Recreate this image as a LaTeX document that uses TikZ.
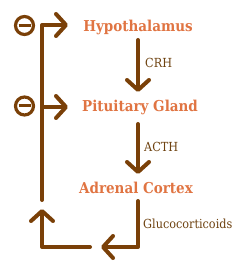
\documentclass[tikz,border=0pt]{standalone}
\usepackage{fontspec}
\setmainfont{DejaVu Serif}
\newfontfamily\condserif{DejaVu Serif Condensed}
\usetikzlibrary{arrows.meta}
\definecolor{organ}{RGB}{224,116,66}
\definecolor{brn}{RGB}{122,64,8}
\definecolor{lbl}{RGB}{110,66,16}
\tikzset{
  organlbl/.style={text=organ, font=\condserif\bfseries\fontsize{15}{17}\selectfont, inner sep=0pt},
  hormone/.style={text=lbl, font=\condserif\fontsize{12.5}{14}\selectfont, inner sep=0pt, anchor=west},
  flow/.style={draw=brn, line width=4pt, line cap=round, line join=round,
    -{Straight Barb[length=10pt,width=22pt,round]}},
  minus/.style={draw=brn, line width=3.2pt, circle, minimum size=18pt, inner sep=0pt,
    path picture={\draw[brn, line width=3pt] ([xshift=-6pt]path picture bounding box.center) -- ([xshift=6pt]path picture bounding box.center);}}
}
\begin{document}
\begin{tikzpicture}[x=1pt,y=-1pt]
\useasboundingbox (0,0) rectangle (250,264);
\node[organlbl] (hypo) at (138,27) {Hypothalamus};
\node[organlbl] (pit) at (140,107) {Pituitary Gland};
\node[organlbl] (adr) at (136,188) {Adrenal Cortex};
\node[hormone] (crh) at (145,63) {CRH};
\node[hormone] (acth) at (144,147) {ACTH};
\node[hormone] (gluc) at (143,224) {Glucocorticoids};
\node[minus] (m1) at (24.5,25.5) {};
\node[minus] (m2) at (24.5,106) {};
% coordinates
\coordinate (c1s) at (138,40);
\coordinate (c1e) at (138,92);
\coordinate (c2s) at (138,124);
\coordinate (c2e) at (138,174);
\coordinate (g1) at (138,201);
\coordinate (g2) at (138,247);
\coordinate (g3) at (101,247);
\coordinate (l1) at (90,247);
\coordinate (l2) at (42,247);
\coordinate (l3) at (42,209);
\coordinate (r0) at (42,200);
\coordinate (r1) at (42,25);
\coordinate (r1e) at (68,25);
\coordinate (r2) at (42,107);
\coordinate (r2e) at (68,107);
\draw[flow] (c1s) -- (c1e);
\draw[flow] (c2s) -- (c2e);
\draw[flow] (g1) -- (g2) -- (g3);
\draw[flow] (l1) -- (l2) -- (l3);
\draw[flow] (r0) -- (r1) -- (r1e);
\draw[flow] (r2) -- (r2e);
\end{tikzpicture}
\end{document}
